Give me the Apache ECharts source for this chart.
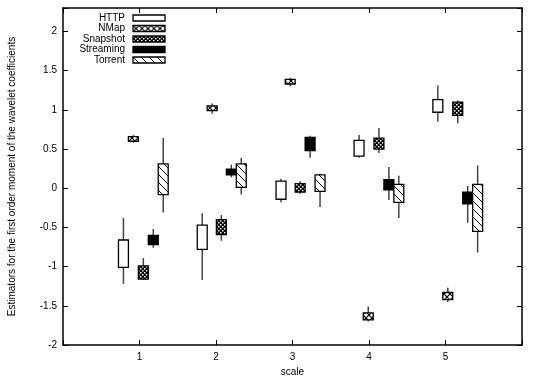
<!DOCTYPE html>
<html>
<head>
<meta charset="utf-8">
<script src="https://cdn.jsdelivr.net/npm/echarts@6/dist/echarts.min.js"></script>
<style>
  html, body { margin: 0; padding: 0; background: #fff; }
  #chart-container { width: 536px; height: 379px; }
</style>
</head>
<body>
<div id="chart-container"></div>
<script>
const seriesNames = ['HTTP', 'NMap', 'Snapshot', 'Streaming', 'Torrent'];
const xTickLabels = ['1', '2', '3', '4', '5'];

// each row: [x position, whisker low, box low, box high, whisker high]
const http = [
	[0.79, -1.22, -1.01, -0.66, -0.38],
	[1.82, -1.17, -0.78, -0.47, -0.32],
	[2.85, -0.18, -0.14, 0.09, 0.12],
	[3.87, 0.39, 0.41, 0.61, 0.68],
	[4.90, 0.85, 0.97, 1.13, 1.31]
];
const nmap = [
	[0.92, 0.58, 0.60, 0.66, 0.68],
	[1.95, 0.95, 0.99, 1.05, 1.08],
	[2.97, 1.30, 1.33, 1.39, 1.41],
	[3.99, -1.70, -1.68, -1.59, -1.51],
	[5.03, -1.45, -1.42, -1.33, -1.27]
];
const snapshot = [
	[1.05, -1.17, -1.16, -0.99, -0.89],
	[2.07, -0.67, -0.59, -0.40, -0.34],
	[3.10, -0.07, -0.05, 0.06, 0.09],
	[4.13, 0.45, 0.50, 0.64, 0.77],
	[5.16, 0.83, 0.93, 1.10, 1.12]
];
const streaming = [
	[1.18, -0.76, -0.72, -0.60, -0.52],
	[2.20, 0.14, 0.17, 0.245, 0.30],
	[3.23, 0.39, 0.48, 0.65, 0.67],
	[4.26, -0.15, -0.02, 0.11, 0.27],
	[5.29, -0.44, -0.20, -0.05, 0.03]
];
const torrent = [
	[1.31, -0.31, -0.08, 0.31, 0.64],
	[2.33, -0.08, 0.01, 0.31, 0.39],
	[3.36, -0.24, -0.04, 0.17, 0.185],
	[4.39, -0.38, -0.18, 0.05, 0.16],
	[5.42, -0.82, -0.55, 0.05, 0.29]
];

const allData = [http, nmap, snapshot, streaming, torrent];
const boxWidth = 0.13;
const font = '"Liberation Sans", Arial, sans-serif';

// small canvas tiles for the fill patterns
const makeTile = (size, draw) => {
	const c = document.createElement('canvas');
	c.width = size; c.height = size;
	const ctx = c.getContext('2d');
	draw(ctx, size);
	return { image: c, repeat: 'repeat' };
};
const fills = [
	'#ffffff',
	makeTile(6, (ctx, s) => {
		ctx.fillStyle = '#fff'; ctx.fillRect(0, 0, s, s);
		ctx.strokeStyle = '#000'; ctx.lineWidth = 1.2;
		ctx.beginPath();
		ctx.moveTo(0, 0); ctx.lineTo(s, s);
		ctx.moveTo(s, 0); ctx.lineTo(0, s);
		ctx.stroke();
	}),
	makeTile(4, (ctx, s) => {
		ctx.fillStyle = '#000'; ctx.fillRect(0, 0, s, s);
		ctx.fillStyle = '#fff';
		ctx.fillRect(0, 0, 1.5, 1.5);
		ctx.fillRect(2, 2, 1.5, 1.5);
	}),
	'#000000',
	makeTile(8, (ctx, s) => {
		ctx.fillStyle = '#fff'; ctx.fillRect(0, 0, s, s);
		ctx.strokeStyle = '#000'; ctx.lineWidth = 1;
		ctx.beginPath();
		ctx.moveTo(-1, -1); ctx.lineTo(s + 1, s + 1);
		ctx.moveTo(-1, s - 1); ctx.lineTo(1, s + 1);
		ctx.moveTo(s - 1, -1); ctx.lineTo(s + 1, 1);
		ctx.stroke();
	})
];

const renderBox = (fill) => (params, api) => {
	const x = api.value(0);
	const wLo = api.coord([x, api.value(1)]);
	const wHi = api.coord([x, api.value(4)]);
	const bLo = api.coord([x, api.value(2)]);
	const bHi = api.coord([x, api.value(3)]);
	const w = api.size([boxWidth, 0])[0];
	return {
		type: 'group',
		children: [
			{ type: 'line', shape: { x1: wLo[0], y1: wLo[1], x2: wHi[0], y2: wHi[1] },
				style: { stroke: '#444', lineWidth: 1.5 } },
			{ type: 'rect', shape: { x: bHi[0] - w / 2, y: bHi[1], width: w, height: bLo[1] - bHi[1] },
				style: { fill: fill, stroke: '#000', lineWidth: 1.3 } }
		]
	};
};

// legend drawn by hand (label on the left, pattern sample on the right)
const legendItems = [];
seriesNames.forEach((name, i) => {
	const y = 18 + i * 10.5;
	legendItems.push({
		type: 'text', x: 125, y: y,
		style: { text: name, font: '10px ' + font, fill: '#000', align: 'right', verticalAlign: 'middle' }
	});
	legendItems.push({
		type: 'rect', x: 133, y: y - 3,
		shape: { x: 0, y: 0, width: 32, height: 6 },
		style: { fill: fills[i], stroke: '#000', lineWidth: 1.3 }
	});
});

const axisLine = { show: true, onZero: false, lineStyle: { color: '#000', width: 1.5 } };
const axisTick = { show: true, inside: true, length: 5, lineStyle: { color: '#000', width: 1 } };

const myChart = echarts.init(document.getElementById('chart-container'));
const option = {
	animation: false,
	backgroundColor: '#fff',
	grid: { left: 63, right: 14, top: 8, bottom: 34, containLabel: false, outerBoundsMode: 'none' },
	xAxis: [{
		type: 'value', min: 0, max: 6, interval: 1,
		name: 'scale', nameLocation: 'middle', nameGap: 22,
		nameTextStyle: { fontFamily: font, fontSize: 10, color: '#000' },
		axisLine: axisLine, axisTick: axisTick, splitLine: { show: false },
		axisLabel: {
			margin: 7, fontFamily: font, fontSize: 10, color: '#000',
			formatter: v => (v >= 1 && v <= 5) ? xTickLabels[v - 1] : ''
		}
	}, {
		type: 'value', position: 'top', min: 0, max: 6, interval: 1,
		axisLine: axisLine, axisTick: axisTick, axisLabel: { show: false }, splitLine: { show: false }
	}],
	yAxis: [{
		type: 'value', min: -2, max: 2.3, interval: 0.5,
		name: 'Estimators for the first order moment of the wavelet coefficients',
		nameLocation: 'middle', nameGap: 46,
		nameTextStyle: { fontFamily: font, fontSize: 10, color: '#000' },
		axisLine: axisLine, axisTick: axisTick, splitLine: { show: false },
		axisLabel: {
			margin: 6, fontFamily: font, fontSize: 10, color: '#000',
			formatter: v => v > 2.05 ? '' : String(v)
		}
	}, {
		type: 'value', position: 'right', min: -2, max: 2.3, interval: 0.5,
		axisLine: axisLine, axisTick: axisTick, axisLabel: { show: false }, splitLine: { show: false }
	}],
	graphic: legendItems,
	series: seriesNames.map((name, i) => ({
		name: name,
		type: 'custom',
		renderItem: renderBox(fills[i]),
		encode: { x: 0, y: [1, 2, 3, 4] },
		data: allData[i]
	}))
};
myChart.setOption(option);
</script>
</body>
</html>
